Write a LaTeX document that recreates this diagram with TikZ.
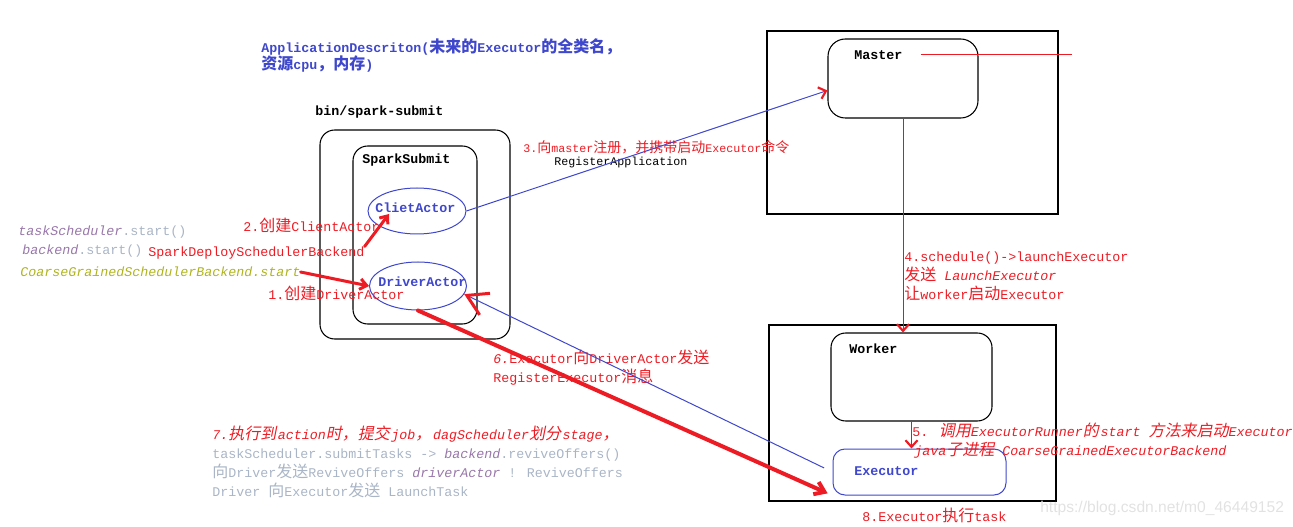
\documentclass[tikz,border=0pt]{standalone}
\usepackage{fontspec}
\setmainfont{Liberation Mono}
\newfontfamily\cjkfont{Noto Sans CJK SC}[Scale=1.2,AutoFakeSlant=0.2]
\newfontfamily\wmfont{Liberation Sans}
\usepackage{xcolor}
\usepackage{tikz}
\usetikzlibrary{arrows.meta,fit,shapes.geometric,calc}

\newcommand\zh[1]{{\cjkfont #1}}
\newcommand\zhit[1]{{\cjkfont #1}\kern1.2pt\relax}

\definecolor{pred}{RGB}{237,28,36}
\definecolor{pblue}{RGB}{63,72,204}
\definecolor{codegrey}{RGB}{169,181,198}
\definecolor{codepurple}{RGB}{152,118,170}
\definecolor{codeyellow}{RGB}{175,180,30}
\definecolor{wmgrey}{RGB}{226,226,226}

\tikzset{
  box/.style={draw, line width=0.8pt, inner sep=0pt},
  rbox/.style={box, rounded corners=11pt},
  actor/.style={draw=pblue, ellipse, inner sep=0pt, line width=0.75pt},
  lbl/.style={anchor=west, inner sep=0pt, align=left, font=\fontsize{10}{12.75}\selectfont\bfseries},
  txt/.style={anchor=west, inner sep=0pt, align=left, text=pred, font=\fontsize{10}{14.25}\selectfont},
  smalltxt/.style={txt, font=\fontsize{8.75}{11}\selectfont},
  bluelink/.style={draw=pblue, line width=0.75pt},
  redlink/.style={draw=pred, line width=2.25pt, line cap=round},
  redtip/.style={-{Straight Barb[color=pred, length=5pt, width=9pt, line width=1.6pt]}},
  smallbarb/.style={-{Straight Barb[length=5pt, width=8pt]}},
  bigbarb/.style={-{Straight Barb[color=pred, length=15pt, width=18pt, line width=2.25pt]}},
  fatbarb/.style={-{Straight Barb[length=7pt, width=10pt]}}
}

\begin{document}
\begin{tikzpicture}[x=0.75pt, y=-0.75pt]
        \useasboundingbox (0,0) rectangle (1293,527);

        \node[box, fit={(767,31) (1058,214)}]                       (masterbox)   {}; %Master
        \node[rbox, rounded corners=13pt, fit={(828,39) (978,118)}] (masterinner) {};
        \node[lbl] (masterlbl) at (854,55) {Master};
        \draw[pred, line width=0.75pt] ([xshift=13.5pt]masterlbl.east) -- ++(151,0);

        \node[box, fit={(769,325) (1056,501)}]  (workerbox)   {};                    %Worker
        \node[rbox, fit={(831,333) (992,421)}]  (workerinner) {};
        \node[lbl] (workerlbl) at (849,349) {Worker};
        \node[box, draw=pblue, line width=0.75pt, rounded corners=9pt, fit={(833,449) (1006,495)}] (executor) {};
        \node[lbl, text=pblue] (execlbl) at (854,471) {Executor};

        \node[rbox, fit={(320,130) (510,339)}]  (submitbox)   {};                    %bin/spark-submit
        \node[rbox, fit={(353,146) (477,324)}]  (sparksubmit) {};
        \node[lbl] (binlbl)    at (315,112) {bin/spark-submit};
        \node[lbl] (submitlbl) at (362,160) {SparkSubmit};
        \node[actor, minimum width=73.5pt, minimum height=34.5pt] (clietactor)  at (417,211) {};
        \node[actor, minimum width=72.75pt, minimum height=36pt]  (driveractor) at (418,286) {};
        \node[lbl, text=pblue] (clietlbl)  at (375,208) {ClietActor};
        \node[lbl, text=pblue] (driverlbl) at (378,282) {DriverActor};

        \node[lbl, text=pblue] (appdesc) at (261,55.5) {ApplicationDescriton(\zh{未来的}Executor\zh{的全类名，}\\\zh{资源}cpu\zh{，内存})};

        % left side, code lines
        \node[txt, text=codegrey] (tsstart) at (18,232) {\textcolor{codepurple}{\textit{taskScheduler}}.start()};
        \node[txt, text=codegrey] (bestart) at (22,251) {\textcolor{codepurple}{\textit{backend}}.start()};
        \node[txt, text=codeyellow, font=\fontsize{10}{14.25}\selectfont\itshape] (cgstart) at (20,272) {CoarseGrainedSchedulerBackend.start};
        \node[txt] (sdsb) at (148,253) {SparkDeploySchedulerBackend};
        \node[txt] (msg2) at (243,225) {2.\zh{创建}ClientActor};
        \node[txt] (msg1) at (268,293) {1.\zh{创建}DriverActor};

        % messages
        \node[smalltxt]              (msg3)  at (523,147) {3.\zh{向}master\zh{注册，并携带启动}Executor\zh{命令}};
        \node[smalltxt, text=black]  (msg3b) at (554,162) {RegisterApplication};
        \node[txt] (msg4) at (904,276) {4.schedule()->launchExecutor\\\zh{发送} \textit{LaunchExecutor}\\\zh{让}worker\zh{启动}Executor};
        \node[txt] (msg5) at (912,440.5) {5. \textit{\zh{调用}ExecutorRunner\zhit{的}start \zh{方法来启动}Executor}\\\hspace{1.5pt}\textit{java\zh{子进程} CoarseGrainedExecutorBackend}};
        \node[txt] (msg6) at (493,367.5) {\textit{6.}Executor\zh{向}DriverActor\zh{发送}\\RegisterExecutor\zh{消息}};
        \node[txt, text=codegrey] (msg7) at (212,461.5) {\textcolor{pred}{\textit{7.\zhit{执行到}action\zhit{时，提交}job\zhit{，}dagScheduler\zhit{划分}stage\zh{，}}}\\
          taskScheduler.submitTasks -> \textcolor{codepurple}{\textit{backend}}.reviveOffers()\\
          \zh{向}Driver\zh{发送}ReviveOffers \textcolor{codepurple}{\textit{driverActor}} ! ReviveOffers\\
          Driver \zh{向}Executor\zh{发送} LaunchTask};
        \node[txt] (msg8) at (862,515) {8.Executor\zh{执行}task};

        \node[anchor=west, inner sep=0pt, text=wmgrey, font=\wmfont\fontsize{11.7}{14}\selectfont] (wm) at (1040,508) {https://blog.csdn.net/m0\_46449152};

        % connectors
        \draw[redlink, smallbarb] (cgstart.east) -- (driveractor.west);                          %1
        \draw[redlink, smallbarb] (sdsb.north east) -- ($(clietactor.center)+(-28,3)$);          %2
        \draw[bluelink, redtip]   (clietactor.east) -- (masterinner.189);                        %3
        \draw[bluelink, redtip]   (masterinner.south) -- (masterinner.south |- workerinner.north); %4
        \draw[bluelink, redtip]   (workerinner.south) -- (workerinner.south |- executor.north);  %5
        \draw[bluelink, bigbarb, shorten <=7pt] (executor.west) -- (driveractor.-10);            %6
        \draw[redlink, line width=3pt, fatbarb, shorten >=4pt] (driveractor.south) -- (executor.south west); %8
      \end{tikzpicture}
\end{document}
